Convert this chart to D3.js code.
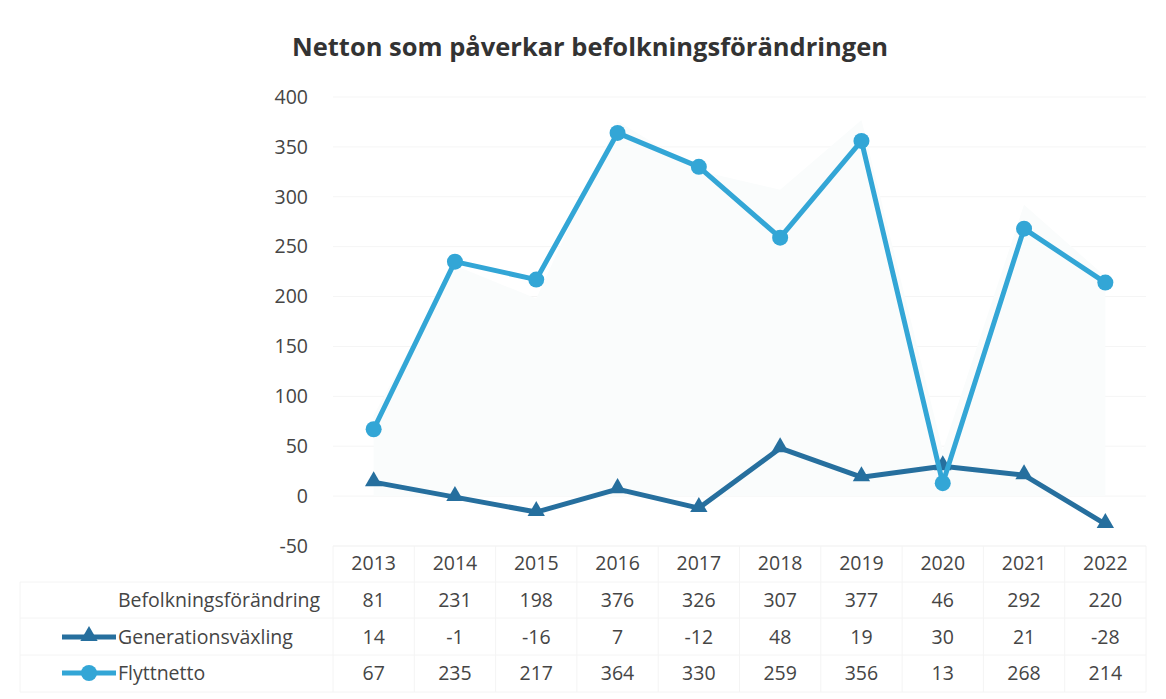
<!DOCTYPE html>
<html>
<head>
    <meta charset="UTF-8">
    <title>Netton som påverkar befolkningsförändringen</title>
    <style>
        body {
            margin: 0;
            overflow: hidden;
            background-color: #ffffff;
            font-family: "Open Sans", "Noto Sans", sans-serif;
        }
    </style>
    <script src="https://cdn.jsdelivr.net/npm/d3@7"></script>
</head>
<body>
    <script>
        // data
        const years = ["2013", "2014", "2015", "2016", "2017", "2018", "2019", "2020", "2021", "2022"];
        const befolkning = [81, 231, 198, 376, 326, 307, 377, 46, 292, 220];
        const generation = [14, -1, -16, 7, -12, 48, 19, 30, 21, -28];
        const flytt = [67, 235, 217, 364, 330, 259, 356, 13, 268, 214];
        const yTicks = [-50, 0, 50, 100, 150, 200, 250, 300, 350, 400];

        const width = 1166;
        const height = 699;
        const margin = {top: 97, right: 20, bottom: 153, left: 333};
        const textColor = "#454545";
        const lightBlue = "#33a6d6";
        const darkBlue = "#266f9e";
        const fontSize = "19.5px";

        const svg = d3.select("body")
            .append("svg")
            .attr("width", width)
            .attr("height", height);

        const x = d3.scaleBand()
            .domain(years)
            .range([margin.left, 1146]);

        const y = d3.scaleLinear()
            .domain([-50, 400])
            .range([height - margin.bottom, margin.top]);

        const cx = d => x(d) + x.bandwidth() / 2;

        // title
        svg.append("text")
            .attr("x", 590)
            .attr("y", 56)
            .attr("text-anchor", "middle")
            .style("font-size", "25.5px")
            .style("font-weight", "bold")
            .style("fill", "#333")
            .text("Netton som påverkar befolkningsförändringen");

        // faint gridlines
        svg.append("g")
            .selectAll("line")
            .data(yTicks)
            .join("line")
            .attr("x1", margin.left)
            .attr("x2", 1146)
            .attr("y1", d => y(d))
            .attr("y2", d => y(d))
            .attr("stroke", "#f5f5f5")
            .attr("stroke-width", 1);

        // Befolkningsförändring: nearly invisible area
        const area = d3.area()
            .x((d, i) => cx(years[i]))
            .y0(y(0))
            .y1(d => y(d));
        svg.append("path")
            .datum(befolkning)
            .attr("d", area)
            .attr("fill", "#fafcfc");

        // y axis labels
        const yAxis = svg.append("g")
            .attr("transform", `translate(${margin.left - 25},0)`)
            .call(d3.axisLeft(y).tickValues(yTicks).tickSize(0).tickPadding(0)
                .tickFormat(d => String(d)));
        yAxis.select(".domain").remove();
        yAxis.selectAll("text")
            .style("font-size", fontSize)
            .style("font-family", "'Open Sans', sans-serif")
            .style("fill", textColor);

        const line = d3.line()
            .x((d, i) => cx(years[i]))
            .y(d => y(d));

        // Generationsväxling
        svg.append("path")
            .datum(generation)
            .attr("d", line)
            .attr("fill", "none")
            .attr("stroke", darkBlue)
            .attr("stroke-width", 5)
            .attr("stroke-linejoin", "round");

        const tri = d3.symbol().type(d3.symbolTriangle).size(130);
        svg.append("g")
            .selectAll("path")
            .data(generation)
            .join("path")
            .attr("d", tri)
            .attr("transform", (d, i) => `translate(${cx(years[i])},${y(d) - 1})`)
            .attr("fill", darkBlue);

        // Flyttnetto
        svg.append("path")
            .datum(flytt)
            .attr("d", line)
            .attr("fill", "none")
            .attr("stroke", lightBlue)
            .attr("stroke-width", 5)
            .attr("stroke-linejoin", "round");

        svg.append("g")
            .selectAll("circle")
            .data(flytt)
            .join("circle")
            .attr("cx", (d, i) => cx(years[i]))
            .attr("cy", d => y(d))
            .attr("r", 8)
            .attr("fill", lightBlue);

        // data table
        const rowY = [563, 600, 637, 673];
        const tableLeft = 20;
        const tableGrid = svg.append("g").attr("stroke", "#f4f4f4").attr("stroke-width", 1);
        years.concat(["end"]).forEach((yr, i) => {
            const xx = margin.left + i * x.step();
            tableGrid.append("line")
                .attr("x1", xx).attr("x2", xx)
                .attr("y1", y(-50)).attr("y2", 692);
        });
        [y(-50), 582, 618, 655, 692].forEach(yy => {
            tableGrid.append("line")
                .attr("x1", yy === y(-50) ? margin.left : tableLeft)
                .attr("x2", 1146)
                .attr("y1", yy).attr("y2", yy);
        });
        tableGrid.append("line")
            .attr("x1", tableLeft).attr("x2", tableLeft)
            .attr("y1", 582).attr("y2", 692);

        const rows = [years, befolkning, generation, flytt];
        rows.forEach((vals, r) => {
            svg.append("g")
                .selectAll("text")
                .data(vals)
                .join("text")
                .attr("x", (d, i) => cx(years[i]))
                .attr("y", rowY[r])
                .attr("dy", "0.35em")
                .attr("text-anchor", "middle")
                .style("font-size", fontSize)
                .style("fill", textColor)
                .text(d => d);
        });

        // legend keys inside table
        const legend = [
            {name: "Befolkningsförändring", color: null, marker: null},
            {name: "Generationsväxling", color: darkBlue, marker: "tri"},
            {name: "Flyttnetto", color: lightBlue, marker: "circle"}
        ];
        legend.forEach((d, i) => {
            const yy = rowY[i + 1];
            const g = svg.append("g");
            if (d.color) {
                g.append("line")
                    .attr("x1", 62).attr("x2", 116)
                    .attr("y1", yy).attr("y2", yy)
                    .attr("stroke", d.color)
                    .attr("stroke-width", 5);
                if (d.marker === "tri") {
                    g.append("path")
                        .attr("d", tri)
                        .attr("transform", `translate(89,${yy - 1})`)
                        .attr("fill", d.color);
                } else {
                    g.append("circle")
                        .attr("cx", 89).attr("cy", yy).attr("r", 8)
                        .attr("fill", d.color);
                }
            }
            g.append("text")
                .attr("x", 118)
                .attr("y", yy)
                .attr("dy", "0.35em")
                .style("font-size", fontSize)
                .style("fill", textColor)
                .text(d.name);
        });
    </script>
</body>
</html>
